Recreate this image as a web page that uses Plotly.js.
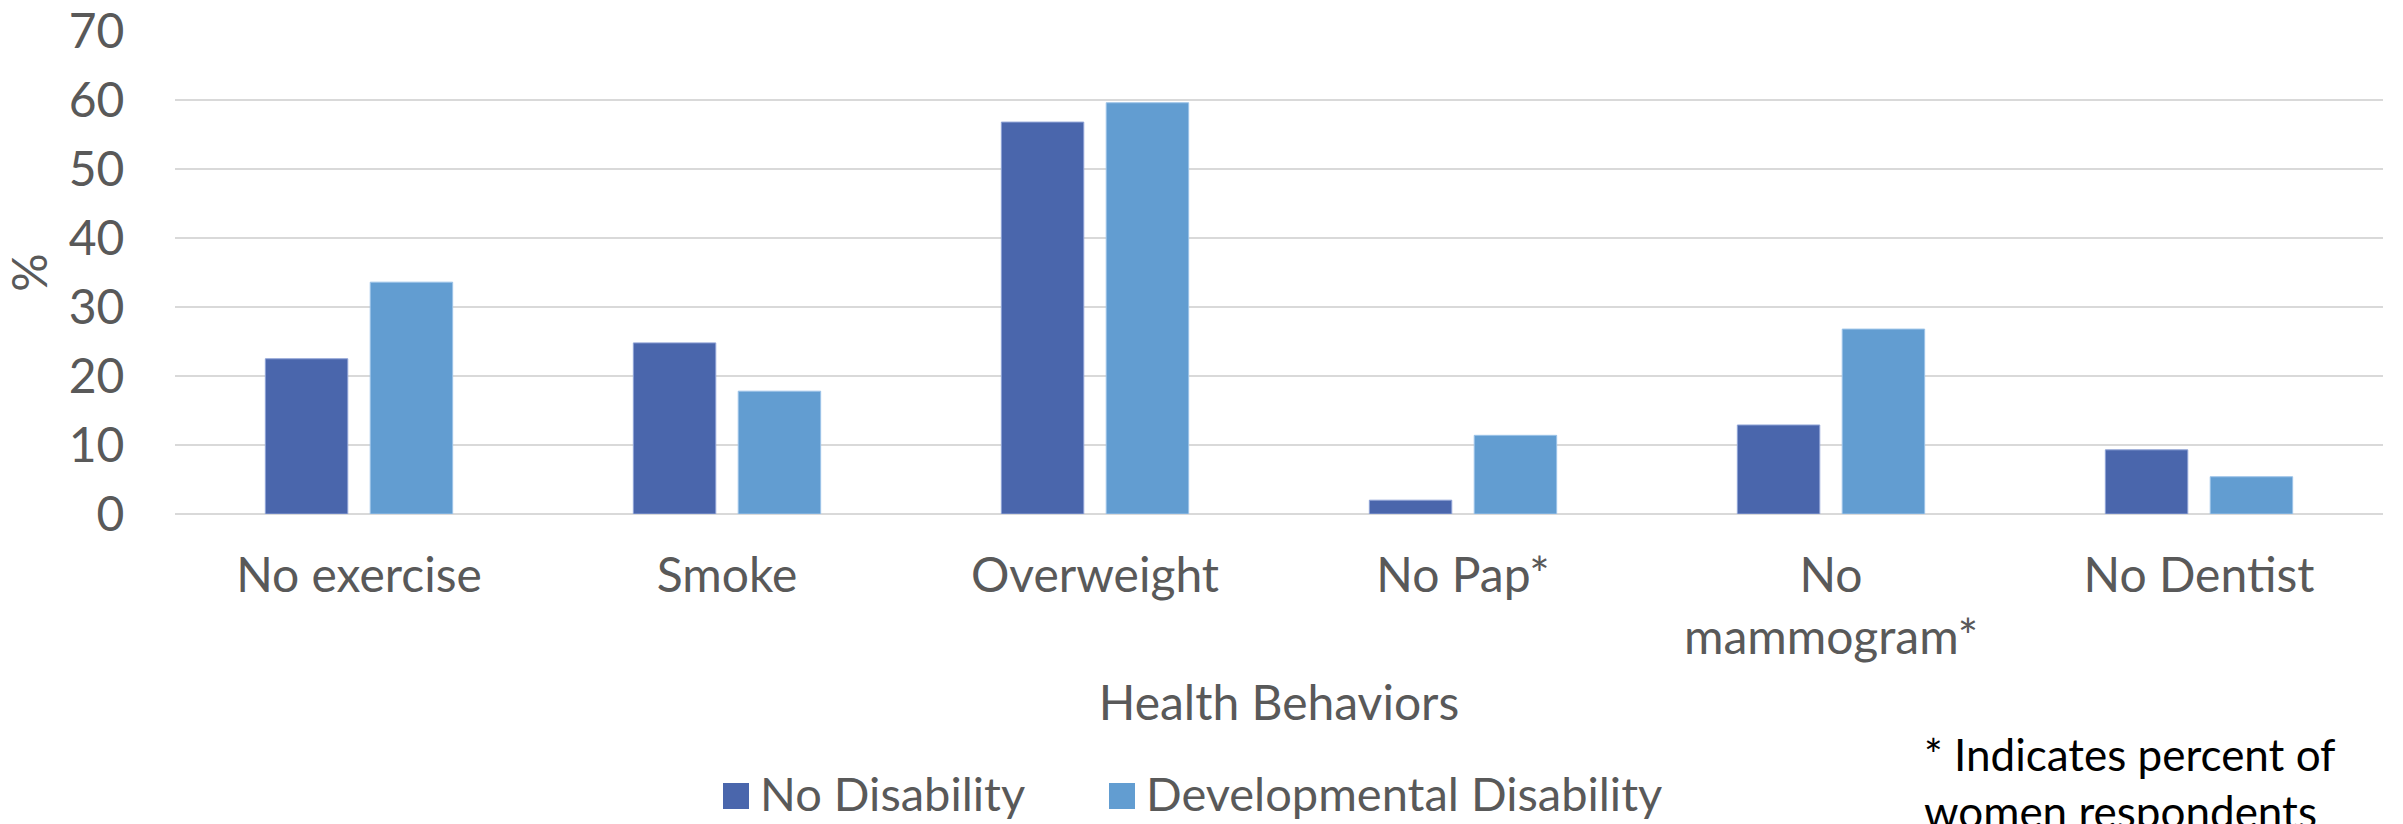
<!DOCTYPE html>
<html>
<head>
<meta charset="utf-8">
<script src="https://cdn.plot.ly/plotly-3.0.1.min.js"></script>
<style>
  html, body { margin: 0; padding: 0; background: #ffffff; }
  #chart { width: 2403px; height: 824px; }
</style>
</head>
<body>
<div id="chart"></div>
<script>
// Health behaviours by disability status (percent of respondents)
const categories = ['No exercise', 'Smoke', 'Overweight', 'No Pap*', 'No<br>mammogram*', 'No Dentist'];
const noDisability = [22.5, 24.8, 56.8, 2.0, 12.9, 9.3];
const developmentalDisability = [33.6, 17.8, 59.6, 11.4, 26.8, 5.4];
const seriesNames = ['No Disability', 'Developmental Disability'];
const yTicks = [0, 10, 20, 30, 40, 50, 60, 70];
const footnote = '* Indicates percent of<br>women respondents';

const COLOR_ND = '#4A66AC';
const COLOR_DD = '#629DD1';
const TEXT = '#595959';
const GRID = '#D9D9D9';
const FONT = 'Lato, "Open Sans", sans-serif';

// plot area in pixels, used to place paper-referenced legend and note
const W = 2403, H = 824;
const M = { l: 175, r: 20, t: 31, b: 310 };
const pw = W - M.l - M.r, ph = H - M.t - M.b;
const px = x => (x - M.l) / pw;
const py = y => (H - M.b - y) / ph;

const traces = [
  { type: 'bar', name: seriesNames[0], x: categories, y: noDisability,
    marker: { color: COLOR_ND, line: { color: '#8fa3d6', width: 1 } }, showlegend: false },
  { type: 'bar', name: seriesNames[1], x: categories, y: developmentalDisability,
    marker: { color: COLOR_DD, line: { color: '#9cc3e8', width: 1 } }, showlegend: false }
];

const legendItems = [
  { color: COLOR_ND, text: seriesNames[0], sx0: 723, sx1: 749, tx: 758 },
  { color: COLOR_DD, text: seriesNames[1], sx0: 1109, sx1: 1135, tx: 1144 }
];
const legendY = 796;

const shapes = legendItems.map(it => ({
  type: 'rect', xref: 'paper', yref: 'paper',
  x0: px(it.sx0), x1: px(it.sx1), y0: py(legendY - 13), y1: py(legendY + 13),
  fillcolor: it.color, line: { width: 0 }
}));

const annotations = legendItems.map(it => ({
  xref: 'paper', yref: 'paper', x: px(it.tx), y: py(legendY - 3),
  xanchor: 'left', yanchor: 'middle', showarrow: false,
  text: it.text, font: { family: FONT, size: 47, color: TEXT }
}));

annotations.push({
  xref: 'paper', yref: 'paper', x: px(1922), y: py(726),
  xanchor: 'left', yanchor: 'top', align: 'left', showarrow: false,
  text: footnote, font: { family: FONT, size: 44, color: '#000000' }
});

const layout = {
  width: W, height: H,
  margin: M,
  paper_bgcolor: '#ffffff', plot_bgcolor: '#ffffff',
  font: { family: FONT, color: TEXT, size: 48 },
  barmode: 'group',
  bargap: 0.43,
  bargroupgap: 0.214,
  showlegend: false,
  xaxis: {
    type: 'category',
    showgrid: false, zeroline: false, showline: false,
    ticks: '',
    ticklabelstandoff: 29,
    tickfont: { family: FONT, size: 48, color: TEXT },
    title: { text: 'Health Behaviors', font: { family: FONT, size: 48, color: TEXT }, standoff: 22 }
  },
  yaxis: {
    range: [0, 70],
    tickvals: yTicks,
    ticktext: yTicks.map(String),
    showgrid: true, gridcolor: GRID, gridwidth: 2,
    zeroline: true, zerolinecolor: GRID, zerolinewidth: 2,
    showline: false,
    // invisible ticks keep the labels clear of the plot edge
    ticks: 'outside', ticklen: 40, tickcolor: 'rgba(0,0,0,0)',
    tickfont: { family: FONT, size: 48, color: TEXT },
    title: { text: '%', font: { family: FONT, size: 48, color: TEXT }, standoff: 6 }
  },
  shapes: shapes,
  annotations: annotations
};

Plotly.newPlot('chart', traces, layout, { displayModeBar: false, staticPlot: true });
</script>
</body>
</html>
